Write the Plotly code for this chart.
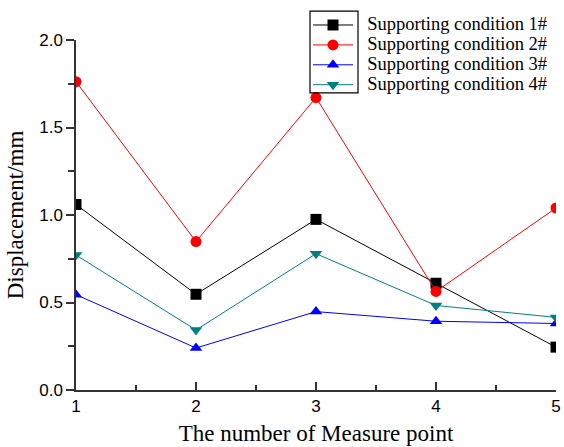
import plotly.graph_objects as go

points = [1, 2, 3, 4, 5]
cond1 = [1.06, 0.547, 0.975, 0.61, 0.245]
cond2 = [1.762, 0.848, 1.671, 0.563, 1.04]
cond3 = [0.545, 0.24, 0.448, 0.393, 0.38]
cond4 = [0.771, 0.343, 0.779, 0.483, 0.415]
names = ["Supporting condition 1#", "Supporting condition 2#",
         "Supporting condition 3#", "Supporting condition 4#"]
colors = ["#000000", "#ff0000", "#0000ff", "#008080"]
symbols = ["square", "circle", "triangle-up", "triangle-down"]

fig = go.Figure()
for ys, n, c, s in zip([cond1, cond2, cond3, cond4], names, colors, symbols):
    fig.add_trace(go.Scatter(x=points, y=ys,
                             name='<span style="font-size:18.5px">&nbsp;&nbsp;' + n + '</span>',
                             mode="lines+markers",
                             line=dict(color=c, width=1),
                             marker=dict(symbol=s, size=11, color=c),
                             cliponaxis=True))

L, R, T, B = 76, 8, 40, 56.5
W, H = 564, 447
pw, ph = W - L - R, H - T - B

def px(x):
    return (x - L) / pw

def py(y):
    return (H - B - y) / ph

fig.add_shape(type="rect", xref="paper", yref="paper",
              x0=px(310), x1=px(358), y0=py(93), y1=py(11),
              line=dict(color="black", width=1.2), fillcolor="rgba(0,0,0,0)")

fig.update_layout(
    width=W, height=H, margin=dict(l=L, r=R, t=T, b=B, autoexpand=False),
    plot_bgcolor="white", paper_bgcolor="white",
    showlegend=True,
    legend=dict(x=px(308), y=py(10), xanchor="left", yanchor="top",
                bgcolor="rgba(0,0,0,0)", borderwidth=0,
                font=dict(family="Liberation Serif", size=13, color="black"),
                itemwidth=40, tracegroupgap=0),
    xaxis=dict(range=[1, 5], tickvals=points, ticks="inside", ticklen=8,
               tickwidth=1.5, tickcolor="#333", showline=True, linecolor="#333",
               linewidth=1.5, showgrid=False, zeroline=False, automargin=False,
               tickfont=dict(family="Liberation Sans", size=17, color="black"),
               minor=dict(ticks="inside", ticklen=5, tickwidth=1.5, tickcolor="#333", dtick=0.5),
               title=dict(text="The number of Measure point", standoff=10,
                          font=dict(family="Liberation Serif", size=23, color="black"))),
    yaxis=dict(range=[0, 2], tickvals=[0, 0.5, 1.0, 1.5, 2.0],
               ticktext=["0.0", "0.5", "1.0", "1.5", "2.0"],
               ticks="outside", ticklen=8, tickwidth=1.5, tickcolor="#333",
               showline=True, linecolor="#333", linewidth=1.5,
               showgrid=False, zeroline=False, automargin=False,
               tickfont=dict(family="Liberation Sans", size=17, color="black"),
               minor=dict(ticks="outside", ticklen=6, tickwidth=1.5, tickcolor="#333", dtick=0.25),
               title=dict(text="Displacement/mm", standoff=9,
                          font=dict(family="Liberation Serif", size=23, color="black"))),
)

fig.write_html("out.html", config={"displayModeBar": False},
               post_script="document.body.style.margin='0';document.body.style.overflow='hidden';")
